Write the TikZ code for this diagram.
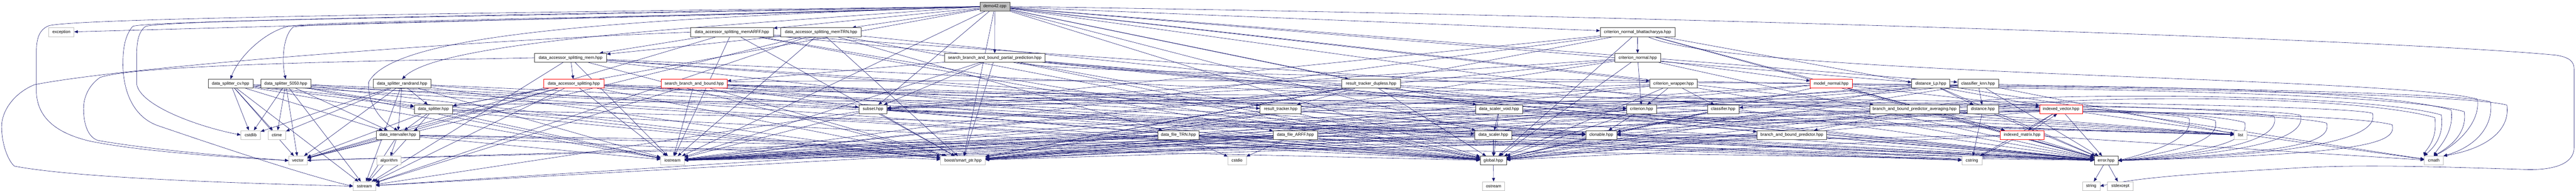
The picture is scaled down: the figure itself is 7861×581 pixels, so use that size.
\documentclass[tikz,border=0pt]{standalone}
\usepackage{fontspec}
\setmainfont{Liberation Sans}
\usetikzlibrary{arrows.meta,backgrounds}
\definecolor{edgec}{RGB}{25,25,112}
\definecolor{sysb}{RGB}{191,191,191}
\definecolor{rootf}{RGB}{191,191,191}
\definecolor{projb}{RGB}{64,64,64}
\tikzset{
  nb/.style={rectangle,inner sep=0pt,minimum height=27pt,line width=1pt,fill=white,font=\fontsize{12.8}{14}\selectfont},
  proj/.style={nb,draw=projb},
  sysn/.style={nb,draw=sysb},
  redn/.style={nb,draw=red},
  rootn/.style={nb,draw=projb,fill=rootf},
  e/.style={draw=edgec,line width=0.9pt,-{Triangle[length=11pt,width=9pt]}},
}
\begin{document}
\begin{tikzpicture}[x=1pt,y=-1pt]
\useasboundingbox (0,0) rectangle (7861,581);
% rank 0
\node[rootn,minimum width=92pt] (demo) at (3036,20) {demo42.cpp};
% rank 1
\node[sysn,minimum width=77pt] (exc) at (187.5,98) {exception};
\node[proj,minimum width=253pt] (mARFF) at (2233.5,98) {data\_accessor\_splitting\_memARFF.hpp};
\node[proj,minimum width=245pt] (mTRN) at (2505.5,98) {data\_accessor\_splitting\_memTRN.hpp};
\node[proj,minimum width=228pt] (cnb) at (4997,98) {criterion\_normal\_bhattacharyya.hpp};
% rank 2
\node[proj,minimum width=220pt] (dasm) at (1741,176) {data\_accessor\_splitting\_mem.hpp};
\node[proj,minimum width=307pt] (sbbpp) at (3035.5,176) {search\_branch\_and\_bound\_partial\_prediction.hpp};
\node[proj,minimum width=139pt] (cn) at (4997.5,176) {criterion\_normal.hpp};
% rank 3
\node[proj,minimum width=137pt] (dscv) at (703.5,255) {data\_splitter\_cv.hpp};
\node[proj,minimum width=152pt] (ds5050) at (872,255) {data\_splitter\_5050.hpp};
\node[proj,minimum width=176pt] (dsrr) at (1227,255) {data\_splitter\_randrand.hpp};
\node[redn,minimum width=184pt] (das) at (1751,255) {data\_accessor\_splitting.hpp};
\node[redn,minimum width=201pt] (sbb) at (2118.5,255) {search\_branch\_and\_bound.hpp};
\node[proj,minimum width=178pt] (rtd) at (4184,255) {result\_tracker\_dupless.hpp};
\node[proj,minimum width=144pt] (cw) at (5107,255) {criterion\_wrapper.hpp};
\node[redn,minimum width=128pt] (mn) at (5588,255) {model\_normal.hpp};
\node[proj,minimum width=116pt] (dLp) at (5892,255) {distance\_Lp.hpp};
\node[proj,minimum width=125pt] (cknn) at (6036.5,255) {classifier\_knn.hpp};
% rank 4
\node[proj,minimum width=117pt] (dsp) at (1322.5,333) {data\_splitter.hpp};
\node[proj,minimum width=86pt] (sub) at (2664,333) {subset.hpp};
\node[proj,minimum width=126pt] (rt) at (3908,333) {result\_tracker.hpp};
\node[proj,minimum width=143pt] (dsv) at (4574.5,333) {data\_scaler\_void.hpp};
\node[proj,minimum width=91pt] (crit) at (5009.5,333) {criterion.hpp};
\node[proj,minimum width=97pt] (cls) at (5258.5,333) {classifier.hpp};
\node[proj,minimum width=273pt] (bbpa) at (5842.5,333) {branch\_and\_bound\_predictor\_averaging.hpp};
\node[proj,minimum width=96pt] (dist) at (6051,333) {distance.hpp};
\node[redn,minimum width=131pt] (iv) at (6289.5,333) {indexed\_vector.hpp};
% rank 5
\node[sysn,minimum width=60pt] (cstdlib) at (765,411) {cstdlib};
\node[sysn,minimum width=54pt] (ctime) at (845,411) {ctime};
\node[proj,minimum width=132pt] (dint) at (1214,411) {data\_intervaller.hpp};
\node[proj,minimum width=126pt] (dfT) at (3596,411) {data\_file\_TRN.hpp};
\node[proj,minimum width=136pt] (dfA) at (3953,411) {data\_file\_ARFF.hpp};
\node[proj,minimum width=114pt] (dsc) at (4557,411) {data\_scaler.hpp};
\node[proj,minimum width=95pt] (clo) at (4886.5,411) {clonable.hpp};
\node[proj,minimum width=212pt] (bbp) at (5468,411) {branch\_and\_bound\_predictor.hpp};
\node[redn,minimum width=135pt] (im) at (6170.5,411) {indexed\_matrix.hpp};
\node[sysn,minimum width=39pt] (list) at (6837.5,411) {list};
% rank 6
\node[sysn,minimum width=56pt] (vector) at (909,489) {vector};
\node[sysn,minimum width=74pt] (algorithm) at (1187,489) {algorithm};
\node[sysn,minimum width=72pt] (iostream) at (2052,489) {iostream};
\node[sysn,minimum width=137pt] (boost) at (2938.5,489) {boost/smart\_ptr.hpp};
\node[sysn,minimum width=56pt] (cstdio) at (3775,489) {cstdio};
\node[proj,minimum width=80pt] (glob) at (4557,489) {global.hpp};
\node[sysn,minimum width=61pt] (cstring) at (6017.5,489) {cstring};
\node[proj,minimum width=72pt] (err) at (6427,489) {error.hpp};
\node[sysn,minimum width=58pt] (cmath) at (7427,489) {cmath};
% rank 7
\node[sysn,minimum width=68pt] (sstream) at (1112,567) {sstream};
\node[sysn,minimum width=68pt] (ostream) at (4558,567) {ostream};
\node[sysn,minimum width=53pt] (string) at (6381.5,567) {string};
\node[sysn,minimum width=79pt] (stdexcept) at (6470.5,567) {stdexcept};

\begin{scope}[on background layer]
% straight connectors
\foreach \t in {exc,mARFF,mTRN,cnb,sbbpp,cw,dLp,cknn,sub,rtd,dsv,bbpa,boost,iostream,glob,err,dsp,dsc} \draw[e] (demo) -- (\t);
\foreach \t in {dasm,dfA,boost,iostream,vector,err,glob,list} \draw[e] (mARFF) -- (\t);
\foreach \t in {dasm,dfT,boost,iostream,vector,sstream,err,glob} \draw[e] (mTRN) -- (\t);
\foreach \t in {das,boost,iostream,list,sstream,err,glob,cstring} \draw[e] (dasm) -- (\t);
\foreach \t in {dsp,dsc,dint,clo,boost,iostream,vector,list,sstream,glob} \draw[e] (das) -- (\t);
\foreach \s in {dscv,ds5050,dsrr} {
  \foreach \t in {dsp,dint,cstdlib,ctime,vector,boost,iostream,sstream,err,glob} \draw[e] (\s) -- (\t);
}
\foreach \t in {dint,clo,boost,iostream,vector,sstream,glob} \draw[e] (dsp) -- (\t);
\foreach \t in {algorithm,sstream,vector,boost,iostream,err,glob} \draw[e] (dint) -- (\t);
\foreach \t in {boost,iostream,sstream,cstring,clo,glob} \draw[e] (sub) -- (\t);
\foreach \t in {sbb,bbp,boost,iostream,sub,crit,err,glob,rt} \draw[e] (sbbpp) -- (\t);
\foreach \t in {boost,iostream,sstream,list,sub,crit,rt,err,glob} \draw[e] (sbb) -- (\t);
\foreach \t in {rt,boost,iostream,list,sub,err,glob} \draw[e] (rtd) -- (\t);
\foreach \t in {boost,iostream,list,clo,glob} \draw[e] (rt) -- (\t);
\foreach \t in {cstdio,iostream,sstream,cstring,err,glob,vector} \draw[e] (dfT) -- (\t);
\foreach \t in {cstdio,iostream,sstream,cstring,err,glob,vector} \draw[e] (dfA) -- (\t);
\foreach \t in {dsc,boost,iostream,err,glob} \draw[e] (dsv) -- (\t);
\foreach \t in {glob,clo,boost,iostream} \draw[e] (dsc) -- (\t);
\foreach \t in {cn,boost,iostream,err,glob,sub,iv,im} \draw[e] (cnb) -- (\t);
\foreach \t in {crit,mn,boost,iostream,err,glob,sub} \draw[e] (cn) -- (\t);
\foreach \t in {crit,cls,boost,iostream,err,glob,sub} \draw[e] (cw) -- (\t);
\foreach \t in {clo,boost,iostream,glob} \draw[e] (crit) -- (\t);
\foreach \t in {iv,im,boost,iostream,err,glob} \draw[e] (mn) -- (\t);
\foreach \t in {clo,boost,iostream,glob} \draw[e] (cls) -- (\t);
\foreach \t in {cls,dist,boost,iostream,list,err,glob} \draw[e] (cknn) -- (\t);
\foreach \t in {clo,cstring,err,glob} \draw[e] (dist) -- (\t);
\foreach \t in {dist,cmath,err,glob,boost} \draw[e] (dLp) -- (\t);
\foreach \t in {bbp,boost,iostream,list,glob,err} \draw[e] (bbpa) -- (\t);
\foreach \t in {clo,boost,iostream,err,glob} \draw[e] (bbp) -- (\t);
\foreach \t in {err,glob,cstring,cmath,iostream,boost} \draw[e] (iv) -- (\t);
\foreach \t in {err,glob,cstring,cmath,iostream} \draw[e] (im) -- (\t);
\draw[e] ([xshift=-25pt]iv.south) -- ([xshift=18pt]im.north);
\draw[e] ([xshift=31pt]im.north) -- ([xshift=-12pt]iv.south);
\foreach \t in {glob,err} \draw[e] (clo) -- (\t);
\draw[e] (glob) -- (ostream);
\draw[e] (err) -- (string);
\draw[e] (err) -- (stdexcept);

% curved connectors from the root to the splitters on the left
\draw[e] (demo.west) .. controls (2000,55) and (1000,62) .. (880,80) .. controls (800,100) and (725,180) .. (dscv.north);
\draw[e] (demo.west) .. controls (2000,58) and (1000,66) .. (895,82) .. controls (862,110) and (860,190) .. (ds5050.north);
\draw[e] (demo.west) .. controls (2200,80) and (1350,120) .. (dsrr.north);
\draw[e] (demo.west) .. controls (1800,60) and (1200,110) .. (1125,250) .. controls (1120,330) and (1180,380) .. (dint.north);

% left loops
\draw[e] (demo.west) .. controls (1500,38) and (250,55) .. (150,78) .. controls (118,90) and (111,120) .. (111,160) -- (111,280) .. controls (114,370) and (190,410) .. (275,430) .. controls (450,465) and (750,482) .. (vector.west);
\draw[e] (demo.west) .. controls (1500,45) and (520,62) .. (445,80) .. controls (422,95) and (417,130) .. (417,170) -- (417,255) .. controls (425,320) and (600,385) .. (cstdlib.west);
\draw[e] (demo.west) .. controls (1500,50) and (470,62) .. (405,80) .. controls (380,110) and (375,150) .. (375,200) .. controls (378,300) and (420,360) .. (480,382) .. controls (650,440) and (950,540) .. (sstream.west);
\draw[e] (dasm.west) .. controls (1200,185) and (420,195) .. (305,236) .. controls (268,262) and (255,300) .. (255,330) .. controls (255,385) and (272,420) .. (300,428) .. controls (500,462) and (760,480) .. (vector.west);
\draw[e] (mARFF.west) .. controls (1500,120) and (400,200) .. (105,258) .. controls (40,285) and (5,340) .. (5,385) .. controls (5,440) and (25,490) .. (44,506) .. controls (250,545) and (800,560) .. (sstream.west);

% right loop
\draw[e] (demo.east) .. controls (5000,45) and (7300,120) .. (7800,168) .. controls (7845,175) and (7855,190) .. (7855,210) -- (7855,450) .. controls (7855,500) and (7790,520) .. (7700,516) .. controls (7450,508) and (7200,500) .. (7000,512) .. controls (6800,524) and (6550,535) .. (string.east);

% loops into error.hpp
\draw[e] (sub) .. controls (2914,305) and (6480,305) .. (6680,360) .. controls (6695,415) and (6600,455) .. (err.east);
\draw[e] (crit) .. controls (5260,312) and (6560,312) .. (6760,367) .. controls (6775,422) and (6680,455) .. (err.east);
\draw[e] (cls) .. controls (5500,318) and (6650,318) .. (6850,373) .. controls (6865,428) and (6770,458) .. (err.east);
\draw[e] (rt) .. controls (4160,300) and (6740,300) .. (6940,355) .. controls (6955,410) and (6860,460) .. (err.east);
\draw[e] (dsp) .. controls (1570,296) and (6820,296) .. (7020,351) .. controls (7035,406) and (6940,462) .. (err.east);
\draw[e] (dsc) .. controls (4800,320) and (6900,320) .. (7100,375) .. controls (7115,430) and (7020,465) .. (err.east);
\draw[e] (das) .. controls (2000,290) and (7040,290) .. (7240,345) .. controls (7255,400) and (7160,468) .. (err.east);
\draw[e] (clo) .. controls (5130,325) and (7100,325) .. (7300,380) .. controls (7315,435) and (7220,470) .. (err.east);

% loops into cmath
\draw[e] (sbbpp) .. controls (3335,250) and (7400,250) .. (7650,320) .. controls (7660,390) and (7600,450) .. (cmath.north east);
\draw[e] (sbb) .. controls (2420,240) and (7350,240) .. (7600,310) .. controls (7610,380) and (7560,445) .. (cmath.north east);
\draw[e] (cnb) .. controls (5300,232) and (7310,232) .. (7560,302) .. controls (7570,372) and (7500,440) .. (cmath.north);
\draw[e] (mn) .. controls (5890,270) and (7270,270) .. (7520,340) .. controls (7530,410) and (7470,450) .. (cmath.north);
\draw[e] (cknn) .. controls (6340,265) and (7230,265) .. (7480,335) .. controls (7490,405) and (7440,450) .. (cmath.north);
\draw[e] (bbpa) .. controls (6140,280) and (7200,280) .. (7450,350) .. controls (7460,420) and (7420,455) .. (cmath.north west);
\draw[e] (dist) .. controls (6350,288) and (7180,288) .. (7430,358) .. controls (7440,428) and (7400,460) .. (cmath.north west);
\end{scope}
\end{tikzpicture}
\end{document}
